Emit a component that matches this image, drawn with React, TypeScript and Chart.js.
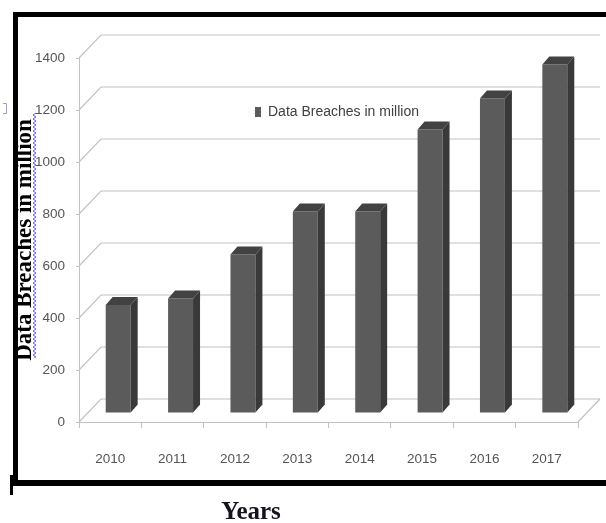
import React, { useEffect, useRef } from "react";
import { Chart, registerables } from "chart.js";

Chart.register(...registerables);

// ---- data ----
const years = ["2010", "2011", "2012", "2013", "2014", "2015", "2016", "2017"];
const breaches = [415, 440, 610, 775, 775, 1090, 1210, 1340];
const yMin = 0;
const yMax = 1400;
const yStep = 200;
const seriesLabel = "Data Breaches in million";
const yTitleText = "Data Breaches in million";
const xTitleText = "Years";

// ---- styles ----
const FRONT = "#5b5b5b";
const SIDE = "#393939";
const TOP = "#424242";
const GRID = "#c2c2c2";
const TICK_COLOR = "#555555";
const SANS = "'Liberation Sans', Arial, sans-serif";
const SERIF = "'Liberation Serif', 'Times New Roman', serif";

const DEPTH_X = 22;
const DEPTH_Y = 23;
const BAR_SHIFT_X = 8;
const BAR_SHIFT_Y = 9;
const SIDE_X = 7;
const SIDE_Y = 8;

const threeD = {
  id: "threeD",
  afterLayout(chart: any) {
    const lg = chart.legend;
    if (lg) {
      lg.left = 255;
      lg.top = 105;
      lg.right = lg.left + 260;
      lg.bottom = lg.top + 40;
    }
  },
  beforeDatasetsDraw(chart: any) {
    const { ctx, chartArea: a, scales } = chart;
    const y = scales.y;
    ctx.save();
    ctx.strokeStyle = GRID;
    ctx.lineWidth = 1.2;
    y.ticks.forEach((t: any) => {
      const py = y.getPixelForValue(t.value);
      ctx.beginPath();
      ctx.moveTo(a.left, py);
      ctx.lineTo(a.left + DEPTH_X, py - DEPTH_Y);
      ctx.lineTo(a.right + DEPTH_X, py - DEPTH_Y);
      ctx.stroke();
    });
    ctx.beginPath();
    ctx.moveTo(a.right, a.bottom);
    ctx.lineTo(a.right + DEPTH_X, a.bottom - DEPTH_Y);
    ctx.stroke();
    ctx.restore();
    ctx.save();
    ctx.translate(BAR_SHIFT_X, -BAR_SHIFT_Y);
  },
  afterDatasetsDraw(chart: any) {
    const { ctx } = chart;
    const meta = chart.getDatasetMeta(0);
    meta.data.forEach((bar: any) => {
      const { x, y, base, width } = bar.getProps(["x", "y", "base", "width"], true);
      const l = x - width / 2;
      const r = x + width / 2;
      ctx.fillStyle = SIDE;
      ctx.beginPath();
      ctx.moveTo(r, y);
      ctx.lineTo(r + SIDE_X, y - SIDE_Y);
      ctx.lineTo(r + SIDE_X, base - SIDE_Y);
      ctx.lineTo(r, base);
      ctx.closePath();
      ctx.fill();
      ctx.fillStyle = TOP;
      ctx.beginPath();
      ctx.moveTo(l, y);
      ctx.lineTo(l + SIDE_X, y - SIDE_Y);
      ctx.lineTo(r + SIDE_X, y - SIDE_Y);
      ctx.lineTo(r, y);
      ctx.closePath();
      ctx.fill();
    });
    ctx.restore();
  },
};

const frame = {
  id: "frame",
  afterDraw(chart: any) {
    const { ctx } = chart;
    ctx.save();
    // spell-check squiggle under the y title
    ctx.strokeStyle = "#5a5aff";
    ctx.lineWidth = 1;
    ctx.beginPath();
    let flip = false;
    ctx.moveTo(34, 357);
    for (let yy = 357; yy >= 113; yy -= 2) {
      ctx.lineTo(flip ? 33 : 36, yy);
      flip = !flip;
    }
    ctx.stroke();
    // thick black frame
    ctx.fillStyle = "#000";
    ctx.fillRect(13, 12, 620, 5);
    ctx.fillRect(13, 12, 5, 474);
    ctx.fillRect(13, 480, 620, 6);
    ctx.fillRect(10, 475, 3, 20);
    // small bracket
    ctx.strokeStyle = "#9aa0b8";
    ctx.lineWidth = 1;
    ctx.beginPath();
    ctx.moveTo(3, 103.5);
    ctx.lineTo(6.5, 103.5);
    ctx.lineTo(6.5, 113.5);
    ctx.lineTo(3, 113.5);
    ctx.stroke();
    // x title
    ctx.fillStyle = "#14141f";
    ctx.font = `bold 25px ${SERIF}`;
    ctx.textAlign = "center";
    ctx.textBaseline = "alphabetic";
    ctx.fillText(xTitleText, 251, 519);
    ctx.restore();
  },
};

export default function App() {
  const ref = useRef<HTMLCanvasElement>(null);
  useEffect(() => {
    document.body.style.margin = "0";
    const canvas = ref.current;
    if (!canvas) return;
    Chart.defaults.font.family = SANS;
    const chart = new Chart(canvas, {
      type: "bar",
      data: {
        labels: years,
        datasets: [
          {
            label: seriesLabel,
            data: breaches,
            backgroundColor: FRONT,
            borderWidth: 0,
            barPercentage: 0.4,
            categoryPercentage: 1,
          },
        ],
      },
      options: {
        responsive: false,
        animation: false,
        devicePixelRatio: 1,
        layout: { padding: { top: 58, right: 28, bottom: 41, left: 0 } },
        plugins: {
          legend: {
            position: "chartArea" as any,
            align: "start",
            labels: {
              boxWidth: 6,
              boxHeight: 10,
              padding: 0,
              color: "#404040",
              font: { family: SANS, size: 14 },
            },
          },
          tooltip: { enabled: false },
        },
        scales: {
          x: {
            grid: {
              offset: true,
              drawOnChartArea: false,
              drawTicks: true,
              tickLength: 6,
              color: GRID,
            },
            border: { display: true, color: GRID },
            ticks: {
              color: TICK_COLOR,
              font: { family: SANS, size: 13.5 },
              padding: 23,
              maxRotation: 0,
            },
            afterFit(s: any) {
              s.height = 60;
            },
          },
          y: {
            min: yMin,
            max: yMax,
            ticks: {
              stepSize: yStep,
              color: TICK_COLOR,
              font: { family: SANS, size: 13.5 },
              padding: 11,
              callback: (v: any) => String(v),
            },
            grid: { drawOnChartArea: false, tickLength: 3, color: GRID },
            border: { display: true, color: GRID },
            title: {
              display: true,
              text: yTitleText,
              color: "#000",
              font: { family: SERIF, size: 23, weight: "bold" },
              padding: { top: 11, bottom: 0 },
            },
            afterFit(s: any) {
              s.width = 79;
            },
          },
        },
      },
      plugins: [threeD, frame],
    } as any);
    return () => chart.destroy();
  }, []);
  return (
    <div style={{ position: "absolute", left: 0, top: 0, width: 606, height: 523, background: "#fff" }}>
      <canvas ref={ref} width={606} height={523} style={{ display: "block" }} />
    </div>
  );
}
